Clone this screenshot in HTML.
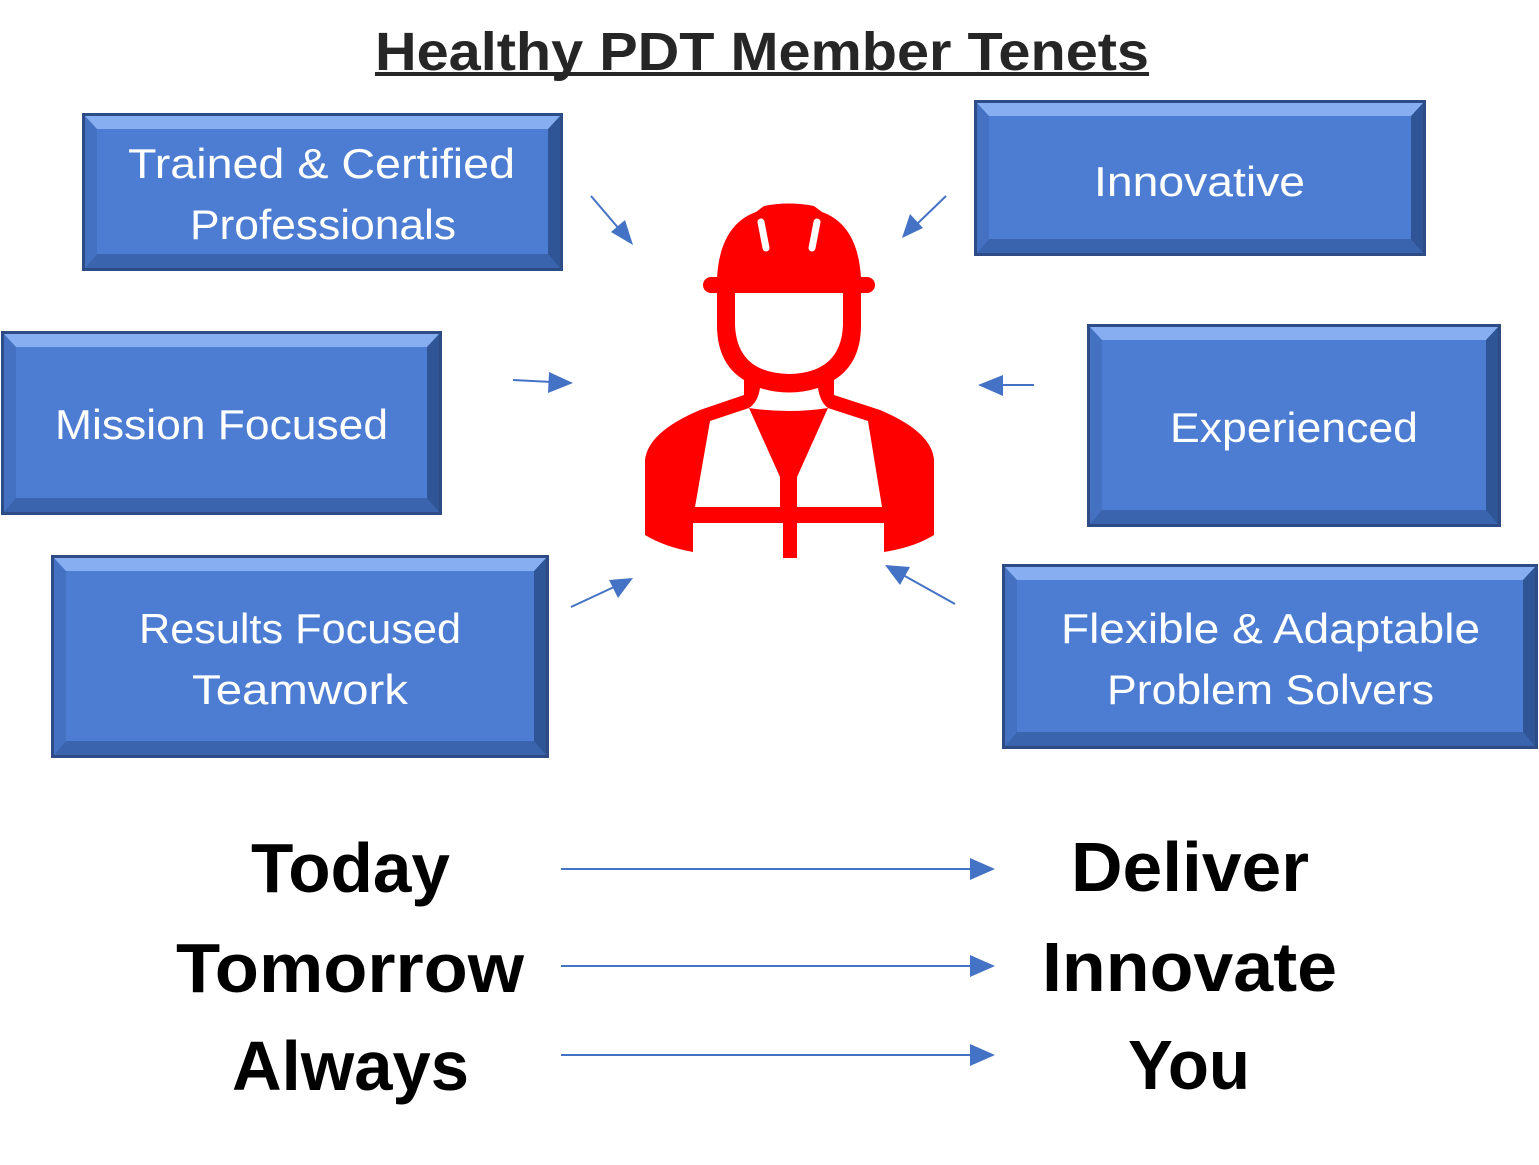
<!DOCTYPE html>
<html><head><meta charset="utf-8"><style>
html,body{margin:0;padding:0;background:#fff;width:1539px;height:1165px;overflow:hidden;position:relative}
.b{position:absolute;box-sizing:border-box;background:#4d7dd3;border-style:solid;border-width:13px 12px 14px 12px;border-color:#86aef0 #2f5596 #3a64ad #4571c2;box-shadow:0 0 0 3px #2d4c86}
svg{position:absolute;left:0;top:0}
</style></head><body>
<div class="b" style="left:85px;top:116px;width:475px;height:152px"></div>
<div class="b" style="left:977px;top:103px;width:446px;height:150px"></div>
<div class="b" style="left:4px;top:334px;width:435px;height:178px"></div>
<div class="b" style="left:1090px;top:327px;width:408px;height:197px"></div>
<div class="b" style="left:54px;top:558px;width:492px;height:197px"></div>
<div class="b" style="left:1005px;top:567px;width:530px;height:179px"></div>
<svg width="1539" height="1165" viewBox="0 0 1539 1165">
<defs><marker id="a" markerWidth="10" markerHeight="8" refX="9" refY="4" orient="auto" markerUnits="userSpaceOnUse"><path d="M0,0 L0,0" /></marker></defs>
<g font-family="Liberation Sans, sans-serif">
<text x="375" y="70" font-size="54" font-weight="bold" fill="#262626" textLength="774" lengthAdjust="spacingAndGlyphs">Healthy PDT Member Tenets</text>
<rect x="375" y="72" width="774" height="4" fill="#262626"/>
<g fill="#fff" font-size="42">
<text x="128" y="178" textLength="387" lengthAdjust="spacingAndGlyphs">Trained &amp; Certified</text>
<text x="190" y="239" textLength="266" lengthAdjust="spacingAndGlyphs">Professionals</text>
<text x="1094" y="196" textLength="211" lengthAdjust="spacingAndGlyphs">Innovative</text>
<text x="55" y="439" textLength="333" lengthAdjust="spacingAndGlyphs">Mission Focused</text>
<text x="1170" y="442" textLength="248" lengthAdjust="spacingAndGlyphs">Experienced</text>
<text x="139" y="643" textLength="322" lengthAdjust="spacingAndGlyphs">Results Focused</text>
<text x="192" y="704" textLength="216" lengthAdjust="spacingAndGlyphs">Teamwork</text>
<text x="1061" y="643" textLength="419" lengthAdjust="spacingAndGlyphs">Flexible &amp; Adaptable</text>
<text x="1107" y="704" textLength="327" lengthAdjust="spacingAndGlyphs">Problem Solvers</text>
</g>
<g fill="#000" font-size="70" font-weight="bold">
<text x="251" y="892" textLength="199" lengthAdjust="spacingAndGlyphs">Today</text>
<text x="176" y="992" textLength="348" lengthAdjust="spacingAndGlyphs">Tomorrow</text>
<text x="232" y="1090" textLength="237" lengthAdjust="spacingAndGlyphs">Always</text>
<text x="1071" y="891" textLength="238" lengthAdjust="spacingAndGlyphs">Deliver</text>
<text x="1042" y="991" textLength="295" lengthAdjust="spacingAndGlyphs">Innovate</text>
<text x="1128" y="1089" textLength="122" lengthAdjust="spacingAndGlyphs">You</text>
</g>
</g>
<g stroke="#4472c4" stroke-width="2" fill="#4472c4">
<line x1="561" y1="869" x2="972" y2="869"/><path d="M970,858 L995,869 L970,880Z" stroke="none"/>
<line x1="561" y1="966" x2="972" y2="966"/><path d="M970,955 L995,966 L970,977Z" stroke="none"/>
<line x1="561" y1="1055" x2="972" y2="1055"/><path d="M970,1044 L995,1055 L970,1066Z" stroke="none"/>
<line x1="591" y1="196" x2="620" y2="230"/><path d="M633,245 L611,232 L625,220Z" stroke="none"/>
<line x1="946" y1="196" x2="916" y2="225"/><path d="M902,238 L910,214 L923,228Z" stroke="none"/>
<line x1="513" y1="380" x2="552" y2="382"/><path d="M573,383 L549,372 L548,393Z" stroke="none"/>
<line x1="1034" y1="385" x2="998" y2="385"/><path d="M978,385 L1003,375 L1003,396Z" stroke="none"/>
<line x1="571" y1="607" x2="614" y2="587"/><path d="M633,578 L618,598 L609,580Z" stroke="none"/>
<line x1="955" y1="604" x2="903" y2="575"/><path d="M885,565 L910,567 L900,585Z" stroke="none"/>
</g>
<g fill="#ff0000">
<path d="M645,460 Q648,432 700,410 L744,395 L744,380 L834,380 L834,395 L880,410 Q932,432 934,460 L934,535 Q915,547 884,552 L884,523 L797,523 L797,558 L783,558 L783,523 L693,523 L693,552 Q665,547 645,535 Z"/>
<path fill="#fff" d="M710,421 L749,408 L780,477 L780,507 L695,507 Z"/>
<path fill="#fff" d="M828,408 L868,421 L882,507 L797,507 L797,477 Z"/>
<path fill="#fff" d="M760,388 Q789,397 818,388 Q820,402 828,408 Q789,414 749,408 Q758,402 760,388 Z"/>
<path d="M717,293 L717,325 Q717,388 789,392 Q861,388 861,325 L861,293 Z"/>
<path fill="#fff" d="M735,293 L735,325 Q737,373 789,374 Q841,373 843,325 L843,293 Z"/>
<path d="M717,278 Q720,225 756,212 L764,206 Q789,201 814,206 L822,212 Q858,225 861,278 Z"/>
<rect x="703" y="277" width="172" height="16" rx="8"/>
<line x1="761" y1="222" x2="766" y2="248" stroke="#fff" stroke-width="7" stroke-linecap="round"/>
<line x1="817" y1="222" x2="812" y2="248" stroke="#fff" stroke-width="7" stroke-linecap="round"/>
</g>
</svg>
</body></html>
